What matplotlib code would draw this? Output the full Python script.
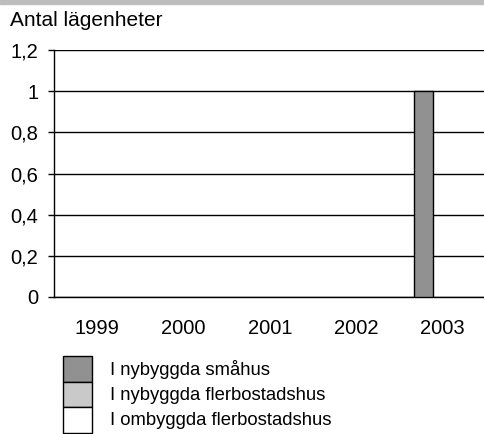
import matplotlib
matplotlib.use("Agg")
import matplotlib.pyplot as plt
from matplotlib.patches import Rectangle
import numpy as np

plt.rcParams['font.family'] = ['Liberation Sans', 'DejaVu Sans']

years = ["1999", "2000", "2001", "2002", "2003"]
series_names = ["I nybyggda småhus", "I nybyggda flerbostadshus", "I ombyggda flerbostadshus"]
smahus = [0, 0, 0, 0, 1]
nyflerbo = [0, 0, 0, 0, 0]
omflerbo = [0, 0, 0, 0, 0]
colors = ["#919191", "#c9c9c9", "#ffffff"]
yticks = [0, 0.2, 0.4, 0.6, 0.8, 1.0, 1.2]
ytick_labels = ["0", "0,2", "0,4", "0,6", "0,8", "1", "1,2"]

W, H = 484, 434
fig = plt.figure(figsize=(W/100, H/100), dpi=100)
ax = fig.add_axes([54/W, (H-297)/H, 432/W, 247/H])

x = np.arange(len(years))
bw = 0.22
for i, (vals, c) in enumerate(zip([smahus, nyflerbo, omflerbo], colors)):
    v = np.array(vals, dtype=float)
    mask = v > 0
    ax.bar(x[mask] + (i-1)*bw, v[mask], width=bw, color=c, edgecolor="black", linewidth=1, zorder=3)

ax.set_xlim(-0.5, len(years)-0.5)
ax.set_ylim(0, 1.2)
ax.set_yticks(yticks)
ax.set_yticklabels(ytick_labels)
ax.set_xticks(x)
ax.set_xticklabels(years)
ax.tick_params(axis='x', length=0, pad=16, labelsize=14.5)
ax.tick_params(axis='y', length=4.3, width=1, pad=7, labelsize=14.5)
ax.grid(axis='y', color='black', linewidth=1, zorder=0)
for s in ['top', 'right']:
    ax.spines[s].set_visible(False)
ax.spines['left'].set_linewidth(1)
ax.spines['bottom'].set_linewidth(1)

# top band
fig.add_artist(Rectangle((0, 1-4/H), 1, 4/H, transform=fig.transFigure, color="#bdbdbd", zorder=0))

fig.text(10/W, 1-20/H, "Antal lägenheter", fontsize=15, va='center', ha='left')

# legend
top = 356
ph = 25.5
for i, (name, c) in enumerate(zip(series_names, colors)):
    y0 = top + i*ph
    fig.add_artist(Rectangle((63/W, 1-(y0+ph)/H), 29/W, ph/H, transform=fig.transFigure,
                             facecolor=c, edgecolor='black', linewidth=1))
    fig.text(110/W, 1-(y0+ph/2+1)/H, name, fontsize=13.3, va='center', ha='left')

fig.savefig("out.png", dpi=100)
